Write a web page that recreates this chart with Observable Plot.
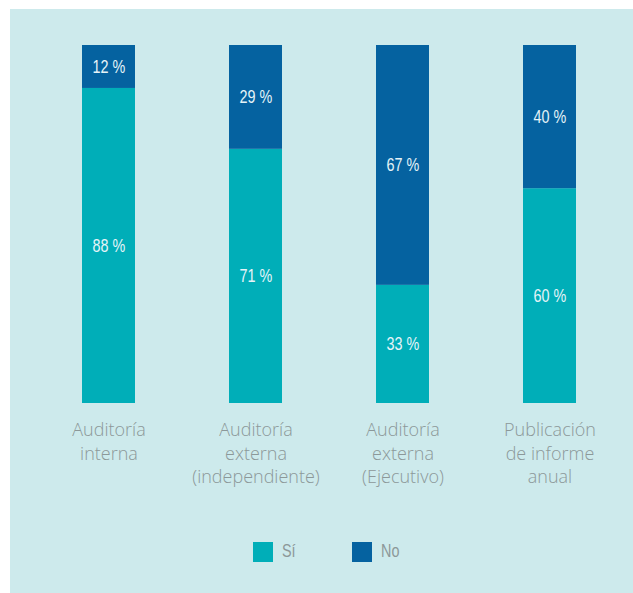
<!DOCTYPE html>
<html>
<head>
<meta charset="utf-8">
<script src="https://cdn.jsdelivr.net/npm/d3@7"></script>
<script src="https://cdn.jsdelivr.net/npm/@observablehq/plot@0.6"></script>
<style>
  html, body { margin: 0; padding: 0; background: #ffffff; }
  #panel { position: absolute; left: 10px; top: 9px; width: 623px; height: 584px; background: #cdeaec; }
  #legend { position: absolute; left: 0; top: 533px; width: 623px; height: 20px; }
  .sw { position: absolute; top: 0; width: 20px; height: 20px; }
  .lt { position: absolute; top: -2px; font-family: sans-serif; font-size: 18px; line-height: 22px; color: #8c9899; transform: scaleX(0.8); transform-origin: left center; }
</style>
</head>
<body>
<div id="panel"><div id="chart"></div><div id="legend"></div></div>
<script>
const categories = ["Auditoría\ninterna", "Auditoría\nexterna\n(independiente)", "Auditoría\nexterna\n(Ejecutivo)", "Publicación\nde informe\nanual"];
const responses = ["Sí", "No"];
const siValues = [88, 71, 33, 60];
const noValues = [12, 29, 67, 40];
const colors = ["#00aeb8", "#0562a0"];

const data = [];
categories.forEach((c, i) => {
  data.push({cat: c, resp: "Sí", value: siValues[i]});
  data.push({cat: c, resp: "No", value: noValues[i]});
});

const chart = Plot.plot({
  width: 623,
  height: 500,
  marginTop: 36,
  marginBottom: 106,
  marginLeft: 72,
  marginRight: 56.5,
  style: {background: "transparent", overflow: "visible"},
  x: {domain: categories, paddingInner: 0.64, paddingOuter: 0, label: null},
  y: {domain: [0, 100], axis: null},
  color: {domain: responses, range: colors},
  marks: [
    Plot.barY(data, {x: "cat", y: "value", fill: "resp", z: "resp"}),
    Plot.text(data, Plot.stackY({x: "cat", y: "value", z: "resp", text: d => d.value + " %", fill: "#e6f4f8", fontSize: 18, fontFamily: "sans-serif"})),
    Plot.axisX({tickSize: 0, tickPadding: 16, fontSize: 18, lineHeight: 1.3, fill: "#8c9899", fontFamily: "'Open Sans', Roboto, sans-serif", fontWeight: 300, label: null})
  ]
});
// narrow the percentage labels to mimic the condensed face of the original
d3.select(chart).selectAll('g[aria-label="text"] text').each(function() {
  const t = this.getAttribute("transform") || "";
  this.setAttribute("transform", t + " scale(0.8,1)");
});
document.getElementById("chart").appendChild(chart);

const legend = d3.select("#legend");
const swX = [243, 342];
responses.forEach((r, i) => {
  legend.append("div").attr("class", "sw").style("left", swX[i] + "px").style("background", colors[i]);
  legend.append("div").attr("class", "lt").style("left", (swX[i] + 29) + "px").text(r);
});
</script>
</body>
</html>
